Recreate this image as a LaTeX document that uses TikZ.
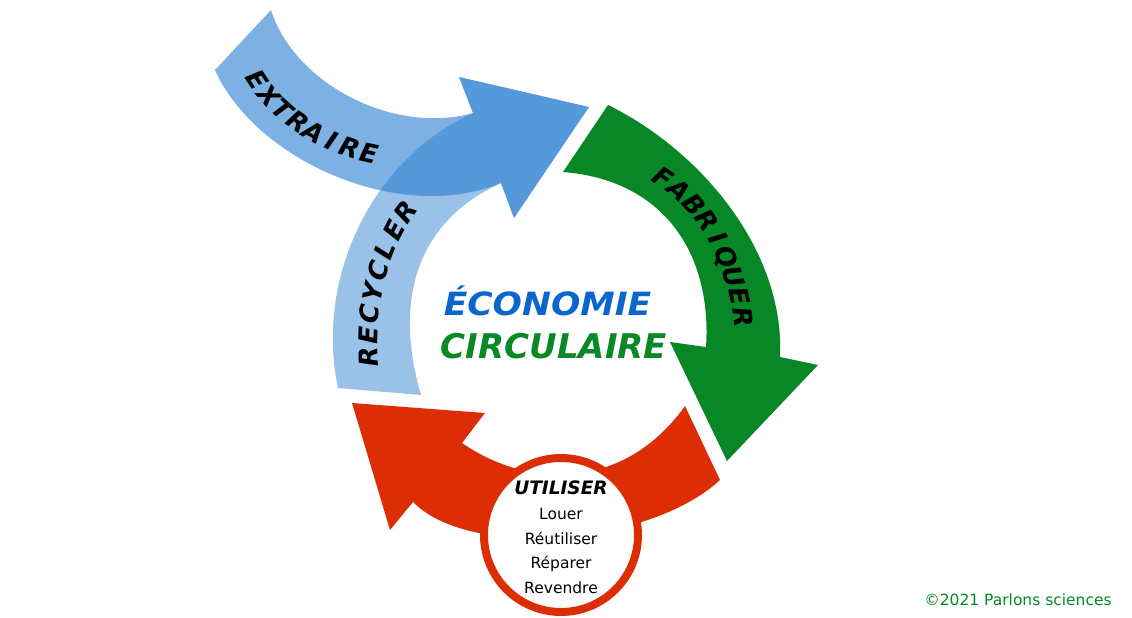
\documentclass[tikz,border=0pt]{standalone}
\usepackage{fontspec}
\setmainfont{DejaVu Sans}
\usetikzlibrary{decorations.markings}
\definecolor{bluebase}{RGB}{40,125,208}
\definecolor{greenarrow}{RGB}{7,135,37}
\definecolor{redarrow}{RGB}{221,45,5}
\definecolor{titleblue}{RGB}{10,102,204}
\definecolor{titlegreen}{RGB}{7,138,38}
\begin{document}
\begin{tikzpicture}[x=1pt,y=-1pt,
  arrowlabel/.style={font=\bfseries\itshape\fontsize{26}{26}\selectfont, text=black, inner sep=0pt,
    text height=19pt, text depth=0pt, transform shape},
  titletext/.style={font=\bfseries\itshape\fontsize{32}{32}\selectfont, anchor=base, inner sep=0pt},
  useitem/.style={font=\fontsize{15.5}{15.5}\selectfont, anchor=base, inner sep=0pt, text=black},
  ringstyle/.style={circle, draw=redarrow, line width=8pt, fill=white, minimum size=154pt, inner sep=0pt}]
\useasboundingbox (0,0) rectangle (1132,618);

% RECYCLER arrow (translucent)
\fill[bluebase, fill opacity=0.47] (338,388) .. controls (315,280) and (370,160) .. (473,113)
  -- (459,77) -- (589,107) -- (514,218) -- (501,183)
  .. controls (420,220) and (392,295) .. (421,395) -- cycle;
% EXTRAIRE arrow (translucent)
\fill[bluebase, fill opacity=0.6] (271,10) .. controls (295,85) and (395,135) .. (473,113)
  -- (459,77) -- (589,107) -- (514,218) -- (501,183)
  .. controls (400,225) and (255,160) .. (215,70) -- cycle;
% FABRIQUER arrow
\fill[greenarrow] (608,105) .. controls (700,150) and (785,250) .. (780,357)
  -- (818,365) -- (727,461) -- (670,342) -- (706,347)
  .. controls (712,255) and (665,180) .. (563,172) -- cycle;
% UTILISER arrow
\fill[redarrow] (720,480) .. controls (650,545) and (470,560) .. (413,502)
  -- (390,530) -- (352,403) -- (485,413) -- (462,443)
  .. controls (530,490) and (625,490) .. (685,406) -- cycle;

% ring
\node[ringstyle] (ring) at (561,535) {};

% arrow labels
\path[postaction={decorate}, decoration={markings,
  mark=at position 0.001 with {\node[arrowlabel] (ex1) {E};},
  mark=at position 0.1429 with {\node[arrowlabel] (ex2) {X};},
  mark=at position 0.2857 with {\node[arrowlabel] (ex3) {T};},
  mark=at position 0.4286 with {\node[arrowlabel] (ex4) {R};},
  mark=at position 0.5714 with {\node[arrowlabel] (ex5) {A};},
  mark=at position 0.7143 with {\node[arrowlabel] (ex6) {I};},
  mark=at position 0.8571 with {\node[arrowlabel] (ex7) {R};},
  mark=at position 0.999 with {\node[arrowlabel] (ex8) {E};}}]
  (257,80) .. controls (280,115) and (320,142) .. (369,153);

\path[postaction={decorate}, decoration={markings,
  mark=at position 0.001 with {\node[arrowlabel] (fa1) {F};},
  mark=at position 0.125 with {\node[arrowlabel] (fa2) {A};},
  mark=at position 0.25 with {\node[arrowlabel] (fa3) {B};},
  mark=at position 0.375 with {\node[arrowlabel] (fa4) {R};},
  mark=at position 0.5 with {\node[arrowlabel] (fa5) {I};},
  mark=at position 0.625 with {\node[arrowlabel] (fa6) {Q};},
  mark=at position 0.75 with {\node[arrowlabel] (fa7) {U};},
  mark=at position 0.875 with {\node[arrowlabel] (fa8) {E};},
  mark=at position 0.999 with {\node[arrowlabel] (fa9) {R};}}]
  (663,177) .. controls (705,205) and (735,255) .. (743,317);

\path[postaction={decorate}, decoration={markings,
  mark=at position 0.001 with {\node[arrowlabel] (re1) {R};},
  mark=at position 0.1429 with {\node[arrowlabel] (re2) {E};},
  mark=at position 0.2857 with {\node[arrowlabel] (re3) {C};},
  mark=at position 0.4286 with {\node[arrowlabel] (re4) {Y};},
  mark=at position 0.5714 with {\node[arrowlabel] (re5) {C};},
  mark=at position 0.7143 with {\node[arrowlabel] (re6) {L};},
  mark=at position 0.8571 with {\node[arrowlabel] (re7) {E};},
  mark=at position 0.999 with {\node[arrowlabel] (re8) {R};}}]
  (368,357) .. controls (365,300) and (382,245) .. (405,212);

% titles
\node[titletext, text=titleblue] (eco) at (547.5,315) {\scalebox{1.08}[1]{ÉCONOMIE}};
\node[titletext, text=titlegreen, font=\bfseries\itshape\fontsize{34}{34}\selectfont] (circ) at (554,358) {CIRCULAIRE};

% ring texts
\node[anchor=base, inner sep=0pt, font=\bfseries\itshape\fontsize{18.5}{18.5}\selectfont] (util) at (561,494) {UTILISER};
\node[useitem] (louer) at (561,519) {Louer};
\node[useitem] (reut) at (561,544) {Réutiliser};
\node[useitem] (repa) at (561,568.5) {Réparer};
\node[useitem] (reve) at (561,593) {Revendre};

% copyright
\node[anchor=base, inner sep=0pt, text=titlegreen, font=\fontsize{15.5}{15.5}\selectfont] (copy) at (1018,605) {©2021 Parlons sciences};
\end{tikzpicture}
\end{document}
